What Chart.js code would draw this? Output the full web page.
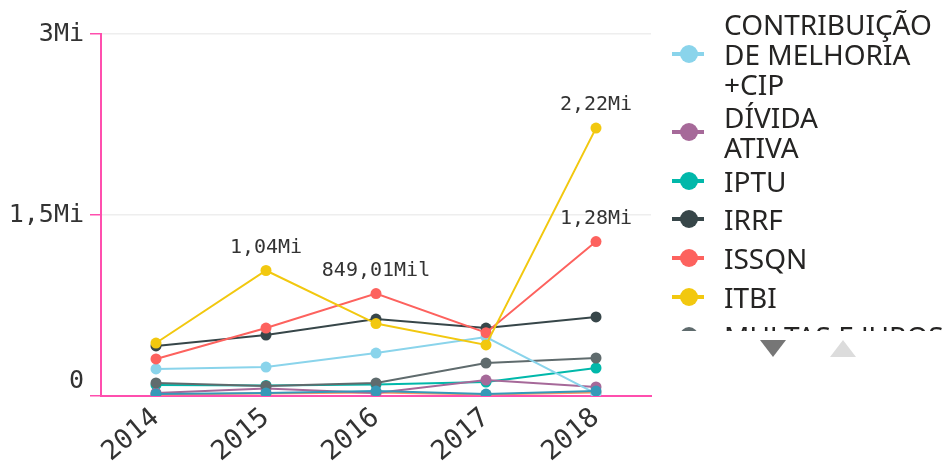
<!DOCTYPE html>
<html>
<head>
<meta charset="utf-8">
<script src="https://cdn.jsdelivr.net/npm/chart.js@4.4.1/dist/chart.umd.min.js"></script>
<style>
  html, body { margin: 0; padding: 0; background: #fff; }
  #wrap { position: relative; width: 946px; height: 466px; overflow: hidden; }
  #c { position: absolute; left: 0; top: 0; }
  #legend { position: absolute; left: 672px; top: 0; width: 274px; height: 331px; overflow: hidden;
            font-family: "Noto Sans", sans-serif; font-size: 28px; color: #252423; }
  .item { position: absolute; left: 0; display: flex; align-items: center; white-space: nowrap; }
  .mk { position: relative; width: 32px; height: 18px; margin-right: 20px; flex: none; }
  .mk .ln { position: absolute; left: 0; top: 7px; width: 32px; height: 4px; }
  .mk .pt { position: absolute; left: 8px; top: 0; width: 18px; height: 18px; border-radius: 50%; }
  .txt { line-height: 30px; }
  .arrow { position: absolute; width: 0; height: 0; }
  #down { left: 760px; top: 340px; border-left: 13px solid transparent; border-right: 13px solid transparent; border-top: 17px solid #767676; }
  #up { left: 830px; top: 340px; border-left: 13px solid transparent; border-right: 13px solid transparent; border-bottom: 17px solid #dcdcdc; }
</style>
</head>
<body>
<div id="wrap">
  <canvas id="c" width="946" height="466"></canvas>
  <div id="legend"></div>
  <div class="arrow" id="down"></div>
  <div class="arrow" id="up"></div>
</div>
<script>
// ---- data ----
const years = ['2014', '2015', '2016', '2017', '2018'];
const yTicks = [0, 1500000, 3000000];

const seriesNames = [
  ['CONTRIBUIÇÃO', 'DE MELHORIA', '+CIP'],
  ['DÍVIDA', 'ATIVA'],
  ['IPTU'],
  ['IRRF'],
  ['ISSQN'],
  ['ITBI'],
  ['MULTAS E JUROS'],
  ['OUTRAS RECEITAS'],
  ['TAXAS']
];
const seriesColors = ['#8AD4EB', '#A66999', '#01B8AA', '#374649', '#FD625E', '#F2C80F', '#5F6B6D', '#3599B8', '#FE9666'];

const contribuicao = [224000, 240000, 356000, 489000, 20000];
const dividaAtiva  = [25000, 62000, 25000, 132000, 75000];
const iptu         = [92000, 88000, 95000, 116000, 232000];
const irrf         = [415000, 505000, 638000, 563000, 655000];
const issqn        = [307000, 563000, 849010, 525000, 1280000];
const itbi         = [439000, 1040000, 600000, 423000, 2220000];
const multas       = [108000, 83000, 108000, 273000, 315000];
const outras       = [16000, 25000, 41000, 16000, 41000];
const taxas        = [12000, 20000, 30000, 12000, 28000];

const seriesValues = [contribuicao, dividaAtiva, iptu, irrf, issqn, itbi, multas, outras, taxas];

// which points carry a data label
const labelIssqn = [false, false, true, false, true];
const labelItbi  = [false, true, false, false, true];
const seriesLabelFlags = [null, null, null, null, labelIssqn, labelItbi, null, null, null];

// legend item tops (layout)
const legendTops = [9, 102, 166, 204, 243, 282, 321];

// ---- helpers ----
function fmtPt(v, dec) {
  return v.toFixed(dec).replace('.', ',');
}
function fmtLabel(v) {
  if (v >= 1e6) return fmtPt(v / 1e6, 2) + 'Mi';
  if (v >= 1e3) return fmtPt(v / 1e3, 2) + 'Mil';
  return String(v);
}
function fmtTick(v) {
  if (v === 0) return ['0', ''];   // lifted so it sits above the axis line
  if (v >= 1e6) return fmtPt(v / 1e6, (v % 1e6 === 0) ? 0 : 1) + 'Mi';
  return fmtPt(v / 1e3, 0) + 'Mil';
}

// ---- legend ----
const legend = document.getElementById('legend');
seriesNames.forEach((lines, i) => {
  if (i >= legendTops.length) return;
  const it = document.createElement('div');
  it.className = 'item';
  it.style.top = legendTops[i] + 'px';
  const mk = document.createElement('div');
  mk.className = 'mk';
  mk.innerHTML = '<div class="ln" style="background:' + seriesColors[i] + '"></div><div class="pt" style="background:' + seriesColors[i] + '"></div>';
  const tx = document.createElement('div');
  tx.className = 'txt';
  tx.innerHTML = lines.join('<br>');
  it.appendChild(mk);
  it.appendChild(tx);
  legend.appendChild(it);
});

// ---- chart ----
const pink = '#FF4FAE';
// Chart.js draws the first dataset on top
const drawOrder = [5, 4, 3, 7, 0, 6, 1, 2, 8];

const datasets = drawOrder.map(i => ({
  label: seriesNames[i].join(' '),
  data: seriesValues[i],
  borderColor: seriesColors[i],
  backgroundColor: seriesColors[i],
  borderWidth: 2,
  pointRadius: 5.5,
  pointHoverRadius: 5.5,
  pointBorderWidth: 0,
  tension: 0,
  fill: false,
  labelFlags: seriesLabelFlags[i]
}));

const dataLabels = {
  id: 'dataLabels',
  afterDatasetsDraw(chart) {
    const ctx = chart.ctx;
    ctx.save();
    ctx.font = '20px "DejaVu Sans Mono", monospace';
    ctx.fillStyle = '#333333';
    ctx.textAlign = 'center';
    ctx.textBaseline = 'bottom';
    chart.data.datasets.forEach((ds, di) => {
      if (!ds.labelFlags) return;
      const meta = chart.getDatasetMeta(di);
      meta.data.forEach((pt, j) => {
        if (ds.labelFlags[j]) ctx.fillText(fmtLabel(ds.data[j]), pt.x, pt.y - 13);
      });
    });
    ctx.restore();
  }
};

new Chart(document.getElementById('c'), {
  type: 'line',
  data: { labels: years, datasets },
  options: {
    responsive: false,
    animation: false,
    events: [],
    layout: { padding: { left: 0, right: 295, top: 34, bottom: 0 } },
    plugins: { legend: { display: false }, tooltip: { enabled: false } },
    scales: {
      x: {
        offset: true,
        grid: { display: false, drawTicks: false },
        border: { display: true, color: pink, width: 2 },
        ticks: {
          font: { family: '"DejaVu Sans Mono", monospace', size: 27 },
          color: '#333333',
          minRotation: 40, maxRotation: 40,
          padding: 6
        },
        afterFit(s) { s.height = 70; }
      },
      y: {
        min: 0, max: 3000000,
        afterBuildTicks(s) { s.ticks = yTicks.map(v => ({ value: v })); },
        grid: {
          color: (c) => c.tick && c.tick.value === 0 ? 'rgba(0,0,0,0)' : '#EEEEEE',
          tickColor: pink,
          tickLength: 11,
          lineWidth: 1.5
        },
        border: { display: true, color: pink, width: 2 },
        ticks: {
          font: { family: '"DejaVu Sans Mono", monospace', size: 25 },
          color: '#333333',
          padding: 6,
          callback: (v) => fmtTick(v)
        },
        afterFit(s) { s.width = 101; }
      }
    }
  },
  plugins: [dataLabels]
});
</script>
</body>
</html>
